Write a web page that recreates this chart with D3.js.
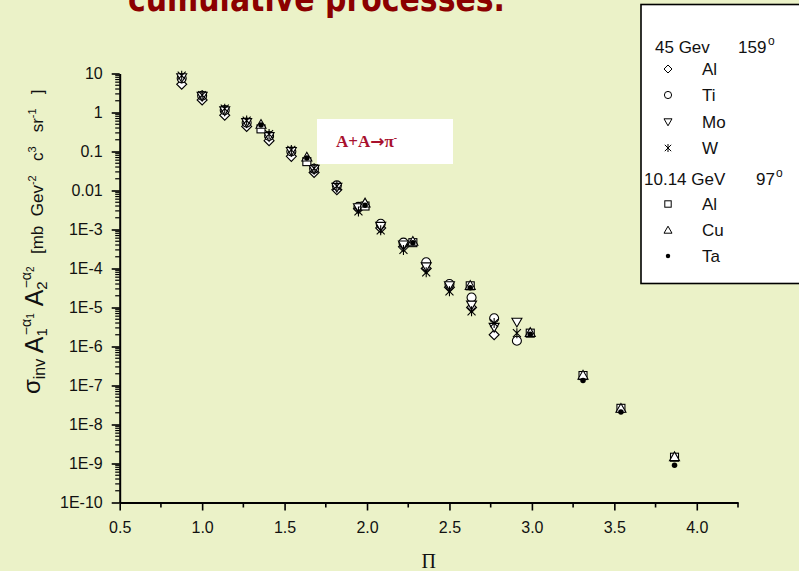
<!DOCTYPE html>
<html>
<head>
<meta charset="utf-8">
<script src="https://cdn.jsdelivr.net/npm/d3@7"></script>
<style>
  html, body { margin: 0; padding: 0; background: #ebf2c8; overflow: hidden; }
  svg { display: block; }
</style>
</head>
<body>
<svg id="chart" width="799" height="571"></svg>
<script>
// 45 GeV, 159 deg — Pi values and invariant cross sections per target
const pi45 = [0.876, 1.0, 1.137, 1.27, 1.406, 1.541, 1.679, 1.817, 1.948, 2.083, 2.221, 2.359, 2.5, 2.634, 2.771, 2.909];
const al45 = [5.3, 2.1, 0.85, 0.44, 0.19, 0.075, 0.029, 0.0105, 0.0034, 1.1e-3, 3.6e-4, 1.0e-4, 3.3e-5, 1.0e-5, 2.0e-6, null];
const ti45 = [7.5, 2.7, 1.15, 0.55, 0.25, 0.1, 0.036, 0.0135, 0.0038, 1.4e-3, 4.6e-4, 1.45e-4, 4.0e-5, 1.8e-5, 5.3e-6, 1.4e-6];
const mo45 = [7.8, 2.6, 1.1, 0.55, 0.24, 0.1, 0.035, 0.012, 0.0036, 1.2e-3, 4.0e-4, 1.1e-4, 3.6e-5, 1.15e-5, 3.1e-6, 4.2e-6];
const w45  = [8.8, 2.8, 1.25, 0.62, 0.28, 0.11, 0.037, 0.013, 0.0029, 9.5e-4, 3.0e-4, 8.0e-5, 2.6e-5, 8.0e-6, 4.0e-6, 2.2e-6];

// 10.14 GeV, 97 deg
const pi10 = [1.357, 1.635, 1.988, 2.278, 2.626, 2.99, 3.31, 3.54, 3.865];
const al10 = [0.38, 0.055, 0.0040, 4.6e-4, 3.6e-5, 2.2e-6, 1.8e-7, 2.6e-8, 1.45e-9];
const cu10 = [0.5, 0.072, 0.0048, 5.0e-4, 3.7e-5, 2.3e-6, 1.85e-7, 2.6e-8, 1.5e-9];
const ta10 = [0.48, 0.068, 0.0042, 4.6e-4, 3.2e-5, 2.05e-6, 1.35e-7, 2.1e-8, 9.0e-10];

// Axis ticks
const xTickValues = [0.5, 1.0, 1.5, 2.0, 2.5, 3.0, 3.5, 4.0];
const yTickValues = [10, 1, 0.1, 0.01, 1e-3, 1e-4, 1e-5, 1e-6, 1e-7, 1e-8, 1e-9, 1e-10];
const yTickLabels = ["10", "1", "0.1", "0.01", "1E-3", "1E-4", "1E-5", "1E-6", "1E-7", "1E-8", "1E-9", "1E-10"];

const svg = d3.select("#chart");
const FONT = "'Liberation Sans', Arial, sans-serif";
const SERIF = "'Liberation Serif', 'Times New Roman', serif";

svg.append("rect").attr("width", 799).attr("height", 571).attr("fill", "#ebf2c8");

// Heading, running off the top edge
svg.append("text")
  .attr("x", 128).attr("y", 11)
  .attr("font-family", "'DejaVu Sans', sans-serif")
  .attr("font-weight", "bold")
  .attr("font-size", 36)
  .attr("fill", "#8b0000")
  .attr("textLength", 377)
  .attr("lengthAdjust", "spacingAndGlyphs")
  .text("cumulative processes.");

const x = d3.scaleLinear().domain([0.5, 4.25]).range([119.7, 738]);
const y = d3.scaleLog().domain([1e-10, 10]).range([502.5, 73.5]);

// Bottom axis
const gx = svg.append("g").attr("transform", `translate(0,${y.range()[0]})`)
  .call(d3.axisBottom(x).tickValues(xTickValues).tickSize(8).tickSizeOuter(0)
    .tickFormat(d3.format(".1f")));
gx.select(".domain").attr("stroke-width", 2);
gx.selectAll(".tick line").attr("stroke-width", 1.6);
gx.selectAll(".tick text").attr("font-family", FONT).attr("font-size", 16).attr("fill", "#111").attr("dy", null).attr("y", 0)
  .attr("transform", "translate(0,30.5)");
const xMinor = d3.range(0.75, 4.26, 0.5);
gx.selectAll(".minor").data(xMinor).enter().append("line")
  .attr("x1", d => x(d)).attr("x2", d => x(d)).attr("y1", 0).attr("y2", 5)
  .attr("stroke", "#000").attr("stroke-width", 1.6);

// Left axis
const gy = svg.append("g").attr("transform", `translate(${x.range()[0]},0)`)
  .call(d3.axisLeft(y).tickValues(yTickValues).tickSize(8).tickSizeOuter(0)
    .tickFormat((d, i) => yTickLabels[i]));
gy.select(".domain").attr("stroke-width", 2);
gy.selectAll(".tick line").attr("stroke-width", 1.6);
gy.selectAll(".tick text").attr("font-family", FONT).attr("font-size", 16).attr("fill", "#111").attr("x", -17);
const yMinor = [];
for (let e = -10; e < 1; e++) for (let m = 2; m <= 9; m++) yMinor.push(m * Math.pow(10, e));
gy.selectAll(".minor").data(yMinor).enter().append("line")
  .attr("x1", 0).attr("x2", -4.5).attr("y1", d => y(d)).attr("y2", d => y(d))
  .attr("stroke", "#000").attr("stroke-width", 1.2);

// Axis titles
svg.append("text").attr("x", (x.range()[0] + x.range()[1]) / 2).attr("y", 568)
  .attr("text-anchor", "middle").attr("font-family", SERIF).attr("font-size", 20).attr("fill", "#111").text("Π");

const yl = svg.append("text").attr("transform", "translate(43,394) rotate(-90)")
  .attr("font-family", FONT).attr("fill", "#111");
const parts = [
  ["σ", 24, -3, 0], ["inv", 16, 5, 0], [" A", 25, -2, 0], ["1", 15, 4, 0], ["−α", 14, -16, -7], ["1", 10, 3, 0],
  [" A", 25, 9, 0], ["2", 15, 4, 0], ["−α", 14, -16, -7], ["2", 10, 3, 0],
  ["  [mb  Gev", 17, 9, 3], ["-2", 11, -7, 0], ["   c", 17, 7, 0], ["3", 11, -7, 0], ["   sr", 17, 7, 0], ["-1", 11, -7, 0], ["   ]", 17, 7, 0]
];
parts.forEach(([t, fs, dy, dx]) => {
  yl.append("tspan").attr("font-size", fs).attr("dy", dy).attr("dx", dx).style("white-space", "pre").text(t);
});

// Marker shapes
const shapes = {
  diamond: (g, s) => g.append("path").attr("d", `M0,${-s}L${s},0L0,${s}L${-s},0Z`).attr("fill", "#fff").attr("stroke", "#000"),
  circle: (g, s) => g.append("circle").attr("r", s * 0.9).attr("fill", "#fff").attr("stroke", "#000"),
  down: (g, s) => g.append("path").attr("d", `M${-s},${-s * 0.8}L${s},${-s * 0.8}L0,${s * 0.95}Z`).attr("fill", "#fff").attr("stroke", "#000"),
  star: (g, s) => g.append("path").attr("d", `M0,${-s}V${s}M${-s * 0.8},${-s * 0.8}L${s * 0.8},${s * 0.8}M${s * 0.8},${-s * 0.8}L${-s * 0.8},${s * 0.8}`).attr("fill", "none").attr("stroke", "#000"),
  square: (g, s) => g.append("rect").attr("x", -s * 0.8).attr("y", -s * 0.8).attr("width", s * 1.6).attr("height", s * 1.6).attr("fill", "#fff").attr("stroke", "#000"),
  up: (g, s) => g.append("path").attr("d", `M${-s},${s * 0.8}L${s},${s * 0.8}L0,${-s * 0.95}Z`).attr("fill", "#fff").attr("stroke", "#000"),
  dot: (g, s) => g.append("circle").attr("r", s * 0.55).attr("fill", "#000")
};

const series = [
  { name: "Al", xs: pi45, ys: al45, shape: "diamond" },
  { name: "Ti", xs: pi45, ys: ti45, shape: "circle" },
  { name: "Mo", xs: pi45, ys: mo45, shape: "down" },
  { name: "W",  xs: pi45, ys: w45,  shape: "star" },
  { name: "Al", xs: pi10, ys: al10, shape: "square" },
  { name: "Cu", xs: pi10, ys: cu10, shape: "up" },
  { name: "Ta", xs: pi10, ys: ta10, shape: "dot" }
];

const plot = svg.append("g");
series.forEach(s => {
  const pts = s.xs.map((v, i) => [v, s.ys[i]]).filter(p => p[1] != null);
  pts.forEach(p => {
    const g = plot.append("g").attr("transform", `translate(${x(p[0])},${y(p[1])})`);
    shapes[s.shape](g, 5).attr("stroke-width", 1.1);
  });
});

// Reaction label
svg.append("rect").attr("x", 317).attr("y", 119).attr("width", 136).attr("height", 45).attr("fill", "#fff");
const rl = svg.append("text").attr("x", 336).attr("y", 147).attr("font-family", SERIF)
  .attr("font-weight", "bold").attr("font-size", 17).attr("fill", "#a8102e");
rl.append("tspan").text("A+A");
rl.append("tspan").attr("font-family", "'DejaVu Sans', sans-serif").attr("font-size", 17).text("→");
rl.append("tspan").text("π");
rl.append("tspan").attr("font-size", 10).attr("dy", -6).text("-");

// Legend
const lg = svg.append("g");
lg.append("rect").attr("x", 641).attr("y", 4.5).attr("width", 170).attr("height", 279)
  .attr("fill", "#fff").attr("stroke", "#000").attr("stroke-width", 1.6);
const lt = (xp, yp, t) => lg.append("text").attr("x", xp).attr("y", yp).attr("font-family", FONT)
  .attr("font-size", 17).attr("fill", "#111").text(t);
const sup = (xp, yp, t) => lg.append("text").attr("x", xp).attr("y", yp).attr("font-family", FONT)
  .attr("font-size", 12).attr("fill", "#111").text(t);
lt(655, 53, "45 Gev"); lt(738, 53, "159"); sup(768, 45, "o");
lt(644, 185, "10.14 GeV"); lt(756, 185, "97"); sup(776, 177, "o");
const legendRows = [
  [0, 69, 75], [1, 95, 101], [2, 122, 127.5], [3, 148, 153.5], [4, 204, 210], [5, 230, 236], [6, 256, 262]
];
legendRows.forEach(([si, cy, by]) => {
  const g = lg.append("g").attr("transform", `translate(668,${cy})`);
  shapes[series[si].shape](g, 4).attr("stroke-width", 1);
  lt(702, by, series[si].name);
});
</script>
</body>
</html>
